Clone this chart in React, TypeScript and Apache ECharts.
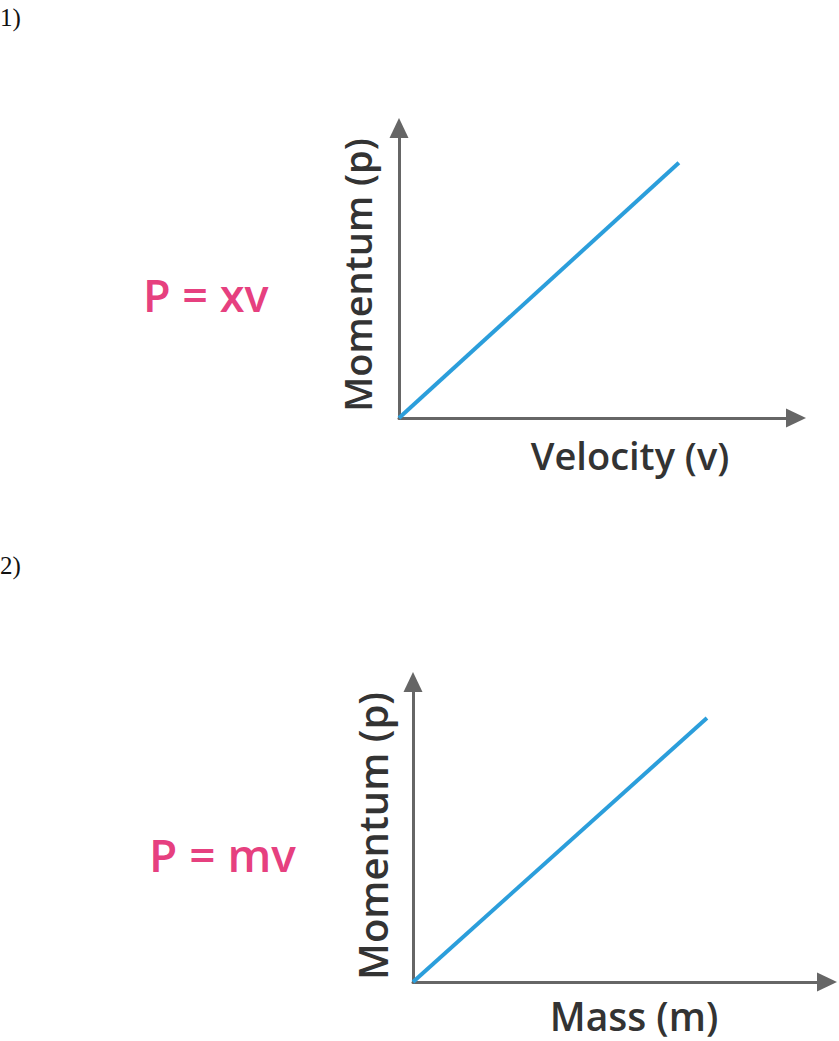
import React, { useEffect, useRef } from "react";
import * as echarts from "echarts";

const chart1Line: [number, number][] = [[0, 0], [7.05, 8.8]];
const chart2Line: [number, number][] = [[0, 0], [7.1, 8.8]];
const panelLabels = ["1)", "2)"];
const equations = ["P = xv", "P = mv"];
const yTitles = ["Momentum (p)", "Momentum (p)"];
const xTitles = ["Velocity (v)", "Mass (m)"];

const AXIS_COLOR = "#666666";
const LINE_COLOR = "#2b9edb";
const PINK = "#e6407f";
const FONT = "'Open Sans', 'Noto Sans', sans-serif";

export default function App() {
  const ref = useRef<HTMLDivElement>(null);
  useEffect(() => {
    if (!ref.current) return;
    const chart = echarts.init(ref.current, null, { renderer: "svg" });
    const axisCommon = {
      type: "value" as const,
      min: 0,
      max: 10,
      axisLine: {
        show: true,
        symbol: ["none", "triangle"],
        symbolSize: [19, 20],
        lineStyle: { color: AXIS_COLOR, width: 3 },
      },
      axisTick: { show: false },
      axisLabel: { show: false },
      splitLine: { show: false },
    };
    const titleStyle = (size: number) => ({
      fill: "#333333",
      font: `600 ${size}px ${FONT}`,
      align: "center",
      verticalAlign: "middle",
    });
    const eqStyle = (size: number) => ({
      fill: PINK,
      font: `600 ${size}px ${FONT}`,
      align: "left",
      verticalAlign: "middle",
    });
    const panelStyle = {
      fill: "#111111",
      font: `25px 'Liberation Serif', 'DejaVu Serif', serif`,
      align: "left",
      verticalAlign: "middle",
    };
    chart.setOption({
      animation: false,
      backgroundColor: "#ffffff",
      grid: [
        { left: 399, top: 128, width: 397, height: 290 },
        { left: 413, top: 682, width: 414, height: 300 },
      ],
      xAxis: [
        { ...axisCommon, gridIndex: 0 },
        { ...axisCommon, gridIndex: 1 },
      ],
      yAxis: [
        { ...axisCommon, gridIndex: 0 },
        { ...axisCommon, gridIndex: 1 },
      ],
      series: [
        {
          type: "line",
          xAxisIndex: 0,
          yAxisIndex: 0,
          data: chart1Line,
          showSymbol: false,
          lineStyle: { color: LINE_COLOR, width: 4 },
          z: 1,
        },
        {
          type: "line",
          xAxisIndex: 1,
          yAxisIndex: 1,
          data: chart2Line,
          showSymbol: false,
          lineStyle: { color: LINE_COLOR, width: 4 },
          z: 1,
        },
      ],
      graphic: [
        { type: "text", x: 0, y: 17, style: { ...panelStyle, text: panelLabels[0] } },
        { type: "text", x: 0, y: 565, style: { ...panelStyle, text: panelLabels[1] } },
        { type: "text", x: 143, y: 294, style: { ...eqStyle(45), text: equations[0] } },
        { type: "text", x: 149, y: 854, style: { ...eqStyle(46), text: equations[1] } },
        { type: "text", x: 357, y: 275, rotation: Math.PI / 2, style: { ...titleStyle(38), text: yTitles[0] } },
        { type: "text", x: 372, y: 836, rotation: Math.PI / 2, style: { ...titleStyle(40), text: yTitles[1] } },
        { type: "text", x: 630, y: 455, style: { ...titleStyle(38), text: xTitles[0] } },
        { type: "text", x: 634, y: 1015, style: { ...titleStyle(39), text: xTitles[1] } },
      ],
    });
    return () => chart.dispose();
  }, []);
  return (
    <div
      ref={ref}
      style={{ position: "absolute", left: 0, top: 0, width: 839, height: 1041 }}
    />
  );
}
